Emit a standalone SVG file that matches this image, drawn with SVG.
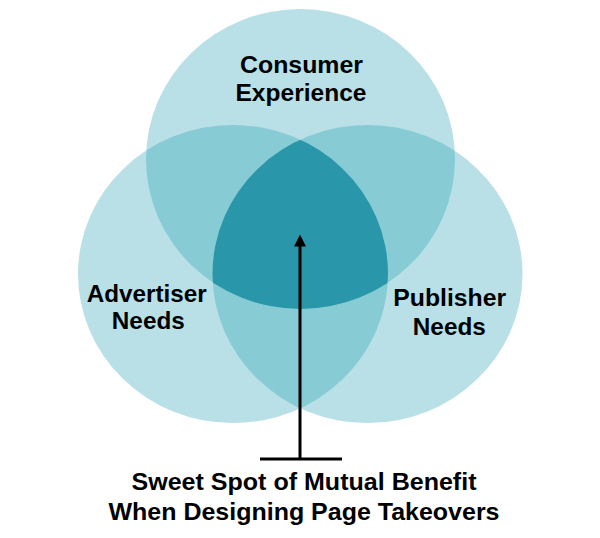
<svg xmlns="http://www.w3.org/2000/svg" width="600" height="538" viewBox="0 0 600 538">
<style>
.lbl{font-family:"Liberation Sans",Arial,sans-serif;font-weight:bold;font-size:24px;fill:#000;text-anchor:middle}
.c1{fill:#b8e0e6}
.c2{fill:#87cbd5}
.c3{fill:#2a96a9}
.ln{stroke:#000;stroke-width:3;fill:none}
</style>
<defs>
<ellipse id="eT" cx="300.5" cy="159" rx="154.5" ry="150"/>
<ellipse id="eL" cx="233" cy="274" rx="155" ry="149"/>
<ellipse id="eR" cx="367.5" cy="274" rx="155" ry="149"/>
<clipPath id="cT"><use href="#eT"/></clipPath>
<clipPath id="cL"><use href="#eL"/></clipPath>
<clipPath id="cR"><use href="#eR"/></clipPath>
<marker id="ah" viewBox="0 0 12 12" refX="0.5" refY="6" markerWidth="12" markerHeight="12" markerUnits="userSpaceOnUse" orient="auto">
<path d="M0,0 L12,6 L0,12 Z" fill="#000"/>
</marker>
</defs>
<g id="consumer">
<use href="#eT" class="c1"/>
</g>
<g id="advertiser">
<use href="#eL" class="c1"/>
</g>
<g id="publisher">
<use href="#eR" class="c1"/>
</g>
<g id="overlaps">
<use href="#eL" class="c2" clip-path="url(#cT)"/>
<use href="#eR" class="c2" clip-path="url(#cT)"/>
<use href="#eR" class="c2" clip-path="url(#cL)"/>
<g clip-path="url(#cT)"><use href="#eR" class="c3" clip-path="url(#cL)"/></g>
</g>
<g id="labels">
<text class="lbl" x="301.5" y="73" textLength="123" lengthAdjust="spacingAndGlyphs">Consumer</text>
<text class="lbl" x="301" y="101" textLength="131" lengthAdjust="spacingAndGlyphs">Experience</text>
<text class="lbl" x="146.7" y="302" textLength="120" lengthAdjust="spacingAndGlyphs">Advertiser</text>
<text class="lbl" x="148.3" y="329" textLength="73" lengthAdjust="spacingAndGlyphs">Needs</text>
<text class="lbl" x="449.7" y="306" textLength="113" lengthAdjust="spacingAndGlyphs">Publisher</text>
<text class="lbl" x="449.3" y="335" textLength="73" lengthAdjust="spacingAndGlyphs">Needs</text>
</g>
<g id="connectors">
<line class="ln" x1="300" y1="459" x2="300" y2="246" marker-end="url(#ah)"/>
<line class="ln" x1="260" y1="459" x2="342" y2="459"/>
</g>
<g id="sweet-spot">
<text class="lbl" x="304" y="490" textLength="345" lengthAdjust="spacingAndGlyphs">Sweet Spot of Mutual Benefit</text>
<text class="lbl" x="304" y="520" textLength="391" lengthAdjust="spacingAndGlyphs">When Designing Page Takeovers</text>
</g>
</svg>
